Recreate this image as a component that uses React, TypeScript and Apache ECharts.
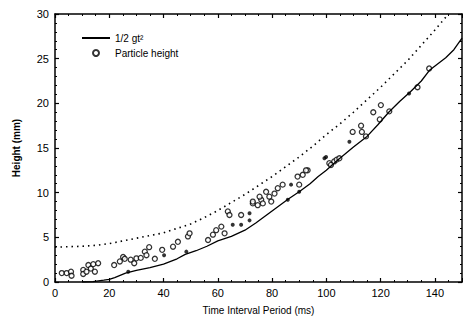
import React, { useEffect, useRef } from "react";
import * as echarts from "echarts";

const xTicks = [0, 20, 40, 60, 80, 100, 120, 140];
const yTicks = [0, 5, 10, 15, 20, 25, 30];

const theoryT = [10, 14, 18, 20, 22, 26, 30, 35, 40, 45, 48, 52, 56, 60, 65, 70, 74, 78, 82, 86, 90, 94, 97, 100, 104, 108, 110, 115, 119, 123, 127, 131, 135, 138, 141, 144, 147, 150];
const theoryH = [0, 0.05, 0.2, 0.3, 0.5, 1.0, 1.3, 1.6, 2.0, 2.6, 3.1, 3.5, 4.0, 4.6, 5.1, 5.8, 6.6, 7.5, 8.4, 9.3, 10.1, 11.0, 11.8, 12.5, 13.6, 14.6, 15.1, 16.3, 17.6, 19.0, 20.2, 21.3, 22.5, 23.7, 24.4, 25.1, 26.0, 27.3];

const upperT = [0, 5, 10, 15, 20, 25, 30, 35, 40, 45, 50, 55, 60, 65, 70, 75, 80, 85, 90, 95, 100, 105, 110, 115, 120, 125, 130, 135, 140, 145];
const upperH = [3.9, 3.95, 4.0, 4.1, 4.3, 4.6, 4.9, 5.2, 5.5, 6.0, 6.5, 7.2, 8.0, 8.9, 9.8, 10.8, 11.8, 12.9, 14.0, 15.2, 16.5, 17.7, 19.0, 20.4, 21.8, 23.3, 24.8, 26.5, 28.2, 30.0];

const openT = [2.5, 4.3, 5.9, 6.1, 10.4, 10.4, 11.6, 12.3, 13.2, 14.1, 14.7, 15.9, 21.8, 23.9, 25.1, 25.7, 27.9, 29.2, 30.0, 31.6, 33.1, 33.7, 34.7, 36.8, 39.5, 43.5, 45.3, 49.0, 49.6, 56.4, 58.2, 59.4, 61.3, 62.5, 63.7, 64.3, 68.6, 72.9, 74.7, 76.0, 72.9, 75.4, 76.6, 77.8, 79.0, 79.7, 80.9, 82.1, 83.9, 89.4, 91.3, 93.1, 90.0, 92.5, 101.1, 102.9, 103.8, 101.7, 104.8, 109.7, 112.8, 113.1, 114.6, 117.3, 120.1, 119.7, 123.2, 133.6, 137.9];
const openH = [1.0, 1.0, 1.15, 0.7, 1.35, 0.9, 1.15, 1.9, 1.5, 2.0, 1.15, 2.1, 1.9, 2.3, 2.8, 2.6, 2.5, 2.1, 2.65, 2.7, 3.4, 3.0, 3.9, 2.6, 3.6, 3.95, 4.5, 5.1, 5.45, 4.7, 5.3, 5.8, 6.2, 5.45, 7.9, 7.5, 7.5, 8.8, 8.6, 9.2, 9.0, 9.55, 8.8, 10.1, 9.55, 9.0, 9.9, 10.5, 10.9, 11.8, 12.0, 12.5, 10.9, 12.5, 13.3, 13.5, 13.7, 13.1, 13.85, 16.8, 17.5, 16.8, 16.3, 19.0, 19.8, 18.2, 19.1, 21.8, 23.9];

const filledT = [27.0, 40.2, 48.4, 65.5, 68.6, 71.7, 71.7, 85.8, 87.0, 90.0, 99.3, 99.9, 108.5, 130.5];
const filledH = [1.15, 3.0, 3.4, 6.4, 6.4, 7.7, 6.9, 9.2, 10.9, 10.1, 13.85, 14.0, 15.7, 21.1];

const zip = (a: number[], b: number[]) => a.map((v, i) => [v, b[i]]);

const FONT = "Liberation Sans";

export default function App() {
  const ref = useRef<HTMLDivElement>(null);
  useEffect(() => {
    if (!ref.current) return;
    const chart = echarts.init(ref.current, undefined, { renderer: "svg" });
    const axisCommon = {
      type: "value" as const,
      axisLine: { show: true, onZero: false, lineStyle: { color: "#000", width: 1.5 } },
      axisTick: { show: true, inside: true, length: 4, lineStyle: { color: "#000", width: 1.2 } },
      minorTick: { show: true, length: 2, lineStyle: { color: "#000", width: 1 } },
      splitLine: { show: false },
    };
    chart.setOption({
      animation: false,
      backgroundColor: "#fff",
      grid: { left: 55, right: 1, top: 14, bottom: 40 },
      legend: {
        orient: "vertical",
        left: 76,
        top: 28,
        itemWidth: 28,
        itemHeight: 6,
        itemGap: 5,
        data: [
          { name: "1/2 gt²", itemStyle: { opacity: 0 } },
          { name: "Particle height" },
        ],
        textStyle: { fontFamily: FONT, fontSize: 10, color: "#000" },
      },
      xAxis: [
        {
          ...axisCommon,
          min: 0,
          max: 150,
          interval: 20,
          minorTick: { ...axisCommon.minorTick, splitNumber: 4 },
          axisLabel: {
            showMaxLabel: false,
            fontFamily: FONT,
            fontSize: 11,
            color: "#000",
            margin: 5,
          },
          name: "Time Interval Period (ms)",
          nameLocation: "middle",
          nameGap: 23,
          nameTextStyle: { fontFamily: FONT, fontSize: 10, color: "#000" },
        },
        {
          ...axisCommon,
          position: "top",
          min: 0,
          max: 150,
          interval: 20,
          minorTick: { ...axisCommon.minorTick, splitNumber: 4 },
          axisLabel: { show: false },
        },
      ],
      yAxis: [
        {
          ...axisCommon,
          min: 0,
          max: 30,
          interval: 5,
          minorTick: { ...axisCommon.minorTick, splitNumber: 5 },
          axisLabel: { fontFamily: FONT, fontSize: 11, color: "#000", margin: 6 },
          name: "Height (mm)",
          nameLocation: "middle",
          nameGap: 34,
          nameRotate: 90,
          nameTextStyle: { fontFamily: FONT, fontSize: 10, fontWeight: "bold", color: "#000" },
        },
        {
          ...axisCommon,
          position: "right",
          min: 0,
          max: 30,
          interval: 5,
          minorTick: { ...axisCommon.minorTick, splitNumber: 5 },
          axisLabel: { show: false },
        },
      ],
      series: [
        {
          name: "upper",
          type: "line",
          data: zip(upperT, upperH),
          symbol: "none",
          lineStyle: { color: "#000", width: 1.6, type: [1.5, 4] },
          silent: true,
        },
        {
          name: "1/2 gt²",
          type: "line",
          data: zip(theoryT, theoryH),
          symbol: "none",
          lineStyle: { color: "#000", width: 1.3 },
          itemStyle: { color: "#000" },
        },
        {
          name: "Particle height",
          type: "scatter",
          data: zip(openT, openH),
          symbol: "circle",
          symbolSize: 5,
          itemStyle: { color: "#fff", borderColor: "#000", borderWidth: 1.3 },
        },
        {
          name: "filled",
          type: "scatter",
          data: zip(filledT, filledH),
          symbol: "circle",
          symbolSize: 4,
          itemStyle: { color: "#000" },
        },
      ],
    });
    return () => chart.dispose();
  }, []);
  return <div ref={ref} style={{ width: 463, height: 322, position: "absolute", left: 0, top: 0 }} />;
}
